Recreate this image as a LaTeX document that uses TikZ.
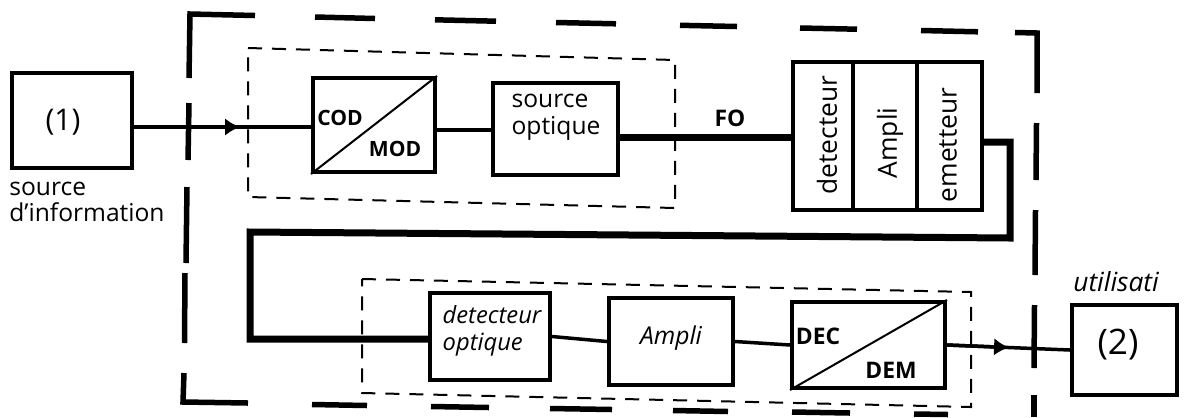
\documentclass[tikz,border=0pt]{standalone}
\usepackage{fontspec}
\setmainfont{Open Sans}
\usetikzlibrary{arrows.meta}
\newdimen\pxu \pxu=0.02cm
\begin{document}
\begin{tikzpicture}[x=0.02cm,y=-0.02cm,
  box/.style={draw, line width=4\pxu, inner sep=0pt},
  conn/.style={line width=3.5\pxu},
  fibre/.style={line width=7\pxu, line join=miter},
  frame/.style={line width=5.5\pxu, line join=miter},
  innerbox/.style={line width=2\pxu, dash pattern=on 14\pxu off 10\pxu},
  diag/.style={line width=2\pxu},
  tipped/.style={-{Latex[length=8.5pt,width=10pt]}},
  txt/.style={inner sep=0pt, font=\fontsize{15}{17}\selectfont},
  bold/.style={inner sep=0pt, font=\fontsize{13}{15}\selectfont\bfseries},
]
\useasboundingbox (0,0) rectangle (1193,417);

% big dashed frame
\draw[frame] (189,78) -- (190,14) -- (255,15.5);
\draw[frame] (315,17) -- (375,18.5);
\draw[frame] (435,19.8) -- (496,21.2);
\draw[frame] (556,22.5) -- (616,23.8);
\draw[frame] (680,25.3) -- (737,26.5);
\draw[frame] (800,28) -- (857,29.2);
\draw[frame] (921,30.5) -- (978,31.8);
\draw[frame] (1015,32.5) -- (1037,33) -- (1037,93);
\draw[frame] (1036.5,123) -- (1036,180);
\draw[frame] (1035.5,210) -- (1035,275);
\draw[frame] (1034.5,305) -- (1034,368);
\draw[frame] (1034,395) -- (1034,417);
\draw[frame] (189,103) -- (188,160);
\draw[frame] (187,187) -- (186,263);
\draw[frame] (185,273) -- (184.5,343);
\draw[frame] (184,373) -- (183,402) -- (248,403);
\draw[frame] (312,404.5) -- (367,405.5);
\draw[frame] (431,406.5) -- (489,407.5);
\draw[frame] (550,408.5) -- (612,409.5);
\draw[frame] (673,410.5) -- (728,411.5);
\draw[frame] (792,412) -- (850,413);
\draw[frame] (914,414) -- (948,414.5);

% inner dashed boxes
\draw[innerbox] (248,48) -- (675,60) -- (675,208) -- (248,197) -- cycle;
\draw[innerbox] (362,279) -- (971,292) -- (971,407) -- (362,393) -- cycle;

% boxes
\node[box, minimum width=120\pxu, minimum height=95\pxu] (src1) at (72,120.5) {};
\node[box, minimum width=122\pxu, minimum height=94\pxu] (codmod) at (374,125) {};
\node[box, minimum width=125\pxu, minimum height=92\pxu] (srcopt) at (555.5,129) {};
\node[box, minimum width=60\pxu, minimum height=148\pxu] (det) at (823,136) {};
\node[box, minimum width=64\pxu, minimum height=148\pxu] (amp) at (885,136) {};
\node[box, minimum width=65\pxu, minimum height=148\pxu] (emet) at (949.5,136) {};
\node[box, minimum width=120\pxu, minimum height=87\pxu] (detopt) at (490,336.5) {};
\node[box, minimum width=124\pxu, minimum height=87\pxu] (ampli) at (671,341.5) {};
\node[box, minimum width=153\pxu, minimum height=86\pxu] (decdem) at (868.5,345) {};
\node[box, minimum width=105\pxu, minimum height=90\pxu] (util) at (1124.5,350) {};

\draw[diag] (codmod.south west) -- (codmod.north east);
\draw[diag] (decdem.south west) -- (decdem.north east);

% texts
\node[txt, font=\fontsize{17}{20}\selectfont] (t1) at (63,122) {(1)};
\node[txt, align=left, anchor=north west, font=\fontsize{14}{14.5}\selectfont] (tsrc) at (9,182) {source\\d'information};
\node[bold, font=\fontsize{12}{14}\selectfont\bfseries] (tcod) at (340,118) {COD};
\node[bold, font=\fontsize{12}{14}\selectfont\bfseries] (tmod) at (395,149) {MOD};
\node[txt, align=left, font=\fontsize{14}{15.5}\selectfont] (tso) at (556,117) {source\\optique};
\node[bold] (tfo) at (730,118) {FO};
\node[txt, rotate=90] (tdet) at (827,135) {detecteur};
\node[txt, rotate=90] (tamp) at (890,143) {Ampli};
\node[txt, rotate=90] (tem) at (948,145) {emetteur};
\node[txt, align=left, font=\fontsize{13.5}{15.5}\selectfont\itshape] (tdo) at (492,331) {detecteur\\optique};
\node[txt, font=\fontsize{14}{16}\selectfont\itshape] (tam2) at (671,338) {Ampli};
\node[bold] (tdec) at (818,336) {DEC};
\node[bold] (tdem) at (891,370) {DEM};
\node[txt, font=\fontsize{20}{22}\selectfont] (t2) at (1118,345) {(2)};
\node[txt, anchor=west, font=\fontsize{15}{17}\selectfont\itshape] (tut) at (1073,282) {utilisati};

% connectors
\coordinate (r1) at (0,127);
\coordinate (r2) at (0,130);
\coordinate (r3) at (0,137);
\coordinate (r4) at (0,142);
\coordinate (a1) at (240,127);
\draw[conn] (src1.east |- r1) -- (codmod.west |- r1);
\draw[conn, tipped] (src1.east |- r1) -- (a1);
\draw[conn] (codmod.east |- r2) -- (srcopt.west |- r2);
\draw[fibre] (srcopt.east |- r3) -- (det.west |- r3);

\coordinate (l1) at (1010,142);
\coordinate (l2) at (1010,238);
\coordinate (l3) at (250,232);
\coordinate (l4) at (250,339);
\draw[fibre] (emet.east |- r4) -- (l1) -- (l2) -- (l3) -- (l4) -- (detopt.west |- l4);

\draw[conn] (detopt.east) -- (ampli.west);
\draw[conn] (ampli.east) -- (decdem.west);
\coordinate (a2) at (1009,347.5);
\draw[conn] (decdem.east) -- (util.west);
\draw[conn, tipped] (decdem.east) -- (a2);
\end{tikzpicture}
\end{document}
